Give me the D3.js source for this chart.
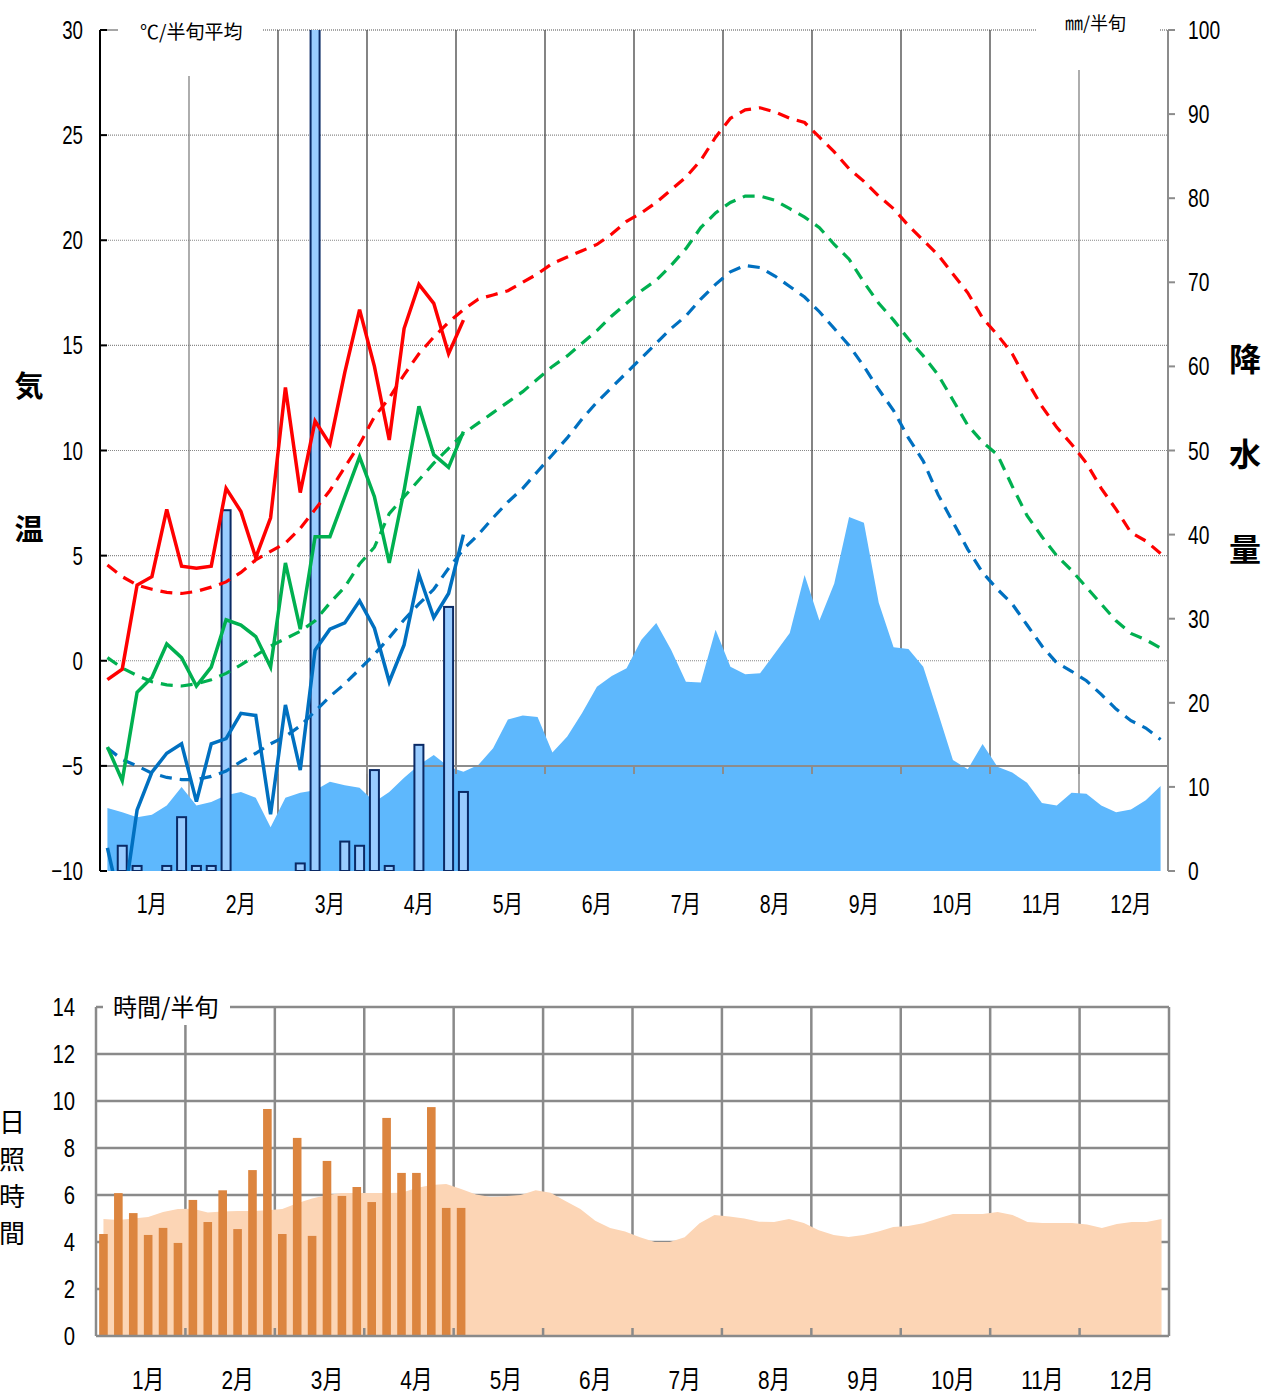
<!DOCTYPE html>
<html lang="ja">
<head>
<meta charset="UTF-8">
<title>気温・降水量・日照時間</title>
<script src="https://d3js.org/d3.v7.min.js"></script>
<style>
  html, body { margin: 0; padding: 0; background: #fff; }
  svg { display: block; }
  .num { font-family: "Liberation Sans", "Noto Sans CJK JP", sans-serif; fill: #000; }
  .jp { font-family: "Noto Sans CJK JP", sans-serif; fill: #000; }
</style>
</head>
<body>
<svg id="chart" width="1262" height="1394"></svg>
<script>
// month labels
const months = ["1月","2月","3月","4月","5月","6月","7月","8月","9月","10月","11月","12月"];

// observed half-month (半旬) values, Jan 1st .. Apr 5th period
const tMax  = [-0.9,-0.4,3.6,4.0,7.2,4.5,4.4,4.5,8.2,7.1,4.9,6.8,13.0,8.0,11.4,10.3,13.7,16.7,14.0,10.5,15.8,17.9,17.0,14.6,16.2];
const tMean = [-4.1,-5.7,-1.5,-0.8,0.8,0.15,-1.2,-0.3,1.95,1.7,1.15,-0.3,4.65,1.5,5.9,5.9,7.8,9.7,7.8,4.65,8.1,12.1,9.8,9.2,10.9];
const tMin  = [-8.9,-12.0,-7.1,-5.3,-4.4,-3.95,-6.7,-3.95,-3.7,-2.5,-2.6,-7.3,-2.1,-5.2,0.5,1.5,1.8,2.85,1.55,-1.0,0.75,4.1,2.05,3.2,6.0];
const precObs = [0,3.0,0.6,0,0.6,6.4,0.6,0.6,42.9,0,0,0,0,0.9,110,0,3.5,3.0,12.0,0.6,0,15.0,0,31.4,9.4];
const sunObs  = [4.34,6.08,5.23,4.3,4.6,3.96,5.79,4.85,6.2,4.55,7.06,9.66,4.34,8.43,4.26,7.45,5.96,6.34,5.7,9.28,6.94,6.94,9.74,5.45,5.45];

// normals, 72 half-month periods
const nMax = [4.55,4.0,3.6,3.4,3.25,3.2,3.3,3.5,3.75,4.2,4.8,5.2,5.6,6.3,7.2,8.1,9.2,10.3,11.6,12.5,13.6,14.6,15.4,16.1,16.7,17.2,17.4,17.6,18.0,18.4,18.9,19.2,19.5,19.8,20.3,20.9,21.3,21.8,22.4,23.0,23.8,24.9,25.8,26.2,26.3,26.1,25.8,25.6,24.9,24.2,23.4,22.8,22.1,21.5,20.7,20.0,19.3,18.4,17.5,16.3,15.5,14.6,13.3,12.1,11.1,10.3,9.4,8.2,7.2,6.1,5.7,5.1];
const nMean = [0.15,-0.35,-0.7,-1.0,-1.15,-1.2,-1.1,-0.9,-0.6,-0.2,0.25,0.7,1.05,1.4,1.9,2.75,3.5,4.6,5.4,7.0,7.8,8.6,9.4,10.1,10.8,11.3,11.8,12.3,12.8,13.4,14.0,14.5,15.1,15.7,16.4,17.0,17.6,18.1,18.8,19.6,20.6,21.3,21.8,22.1,22.1,21.9,21.5,21.1,20.6,19.8,19.1,18.0,17.0,16.2,15.3,14.5,13.6,12.4,11.2,10.4,9.8,8.3,6.9,5.9,5.0,4.3,3.5,2.7,1.9,1.3,1.0,0.6];
const nMin = [-4.15,-4.7,-5.0,-5.35,-5.55,-5.65,-5.65,-5.5,-5.25,-4.8,-4.4,-3.95,-3.6,-3.1,-2.4,-1.7,-1.1,-0.4,0.3,1.1,1.95,2.7,3.4,4.4,5.3,6.0,6.8,7.55,8.2,9.0,9.8,10.6,11.5,12.3,13.0,13.7,14.4,15.1,15.8,16.4,17.2,17.9,18.5,18.8,18.7,18.3,17.8,17.3,16.6,15.8,15.0,14.0,12.9,11.9,10.6,9.5,7.9,6.6,5.3,4.2,3.4,2.7,1.7,0.7,-0.1,-0.5,-0.95,-1.6,-2.3,-2.85,-3.2,-3.75];
const precNorm = [7.5,7.0,6.4,6.7,7.8,10.0,7.8,8.2,9.0,9.4,8.7,5.2,8.7,9.3,9.6,10.6,10.2,9.9,8.2,9.4,11.1,12.6,13.8,12.4,11.8,12.6,14.6,18.0,18.5,18.3,14.1,16.0,18.8,21.9,23.2,24.1,27.5,29.5,26.3,22.5,22.4,28.7,24.3,23.4,23.5,25.9,28.3,35.2,29.8,34.2,42.1,41.4,31.9,26.6,26.4,24.3,18.8,13.2,12.1,15.1,12.4,11.7,10.5,8.1,7.8,9.3,9.2,7.8,7.0,7.3,8.4,10.1];
const sunNorm = [4.98,4.94,5.0,5.06,5.28,5.4,5.42,5.26,5.3,5.32,5.32,5.35,5.4,5.65,5.85,6.0,6.08,6.08,6.08,6.08,6.1,6.3,6.43,6.47,6.26,6.02,5.92,5.95,6.0,6.2,6.1,5.75,5.4,4.9,4.6,4.45,4.2,4.0,4.0,4.2,4.8,5.15,5.08,5.0,4.86,4.85,4.98,4.81,4.5,4.3,4.21,4.3,4.45,4.64,4.68,4.8,5.0,5.19,5.19,5.19,5.28,5.15,4.85,4.81,4.81,4.81,4.74,4.6,4.77,4.85,4.85,4.98];

// axis ticks
const tempTicks = [30,25,20,15,10,5,0,-5,-10];
const precTicks = [100,90,80,70,60,50,40,30,20,10,0];
const sunTicks = [14,12,10,8,6,4,2,0];

const svg = d3.select("#chart");
const N = 72;

function ntext(g, xx, yy, s, size, anchor, sx) {
  return g.append("text").attr("class", "num")
    .attr("transform", `translate(${xx},${yy}) scale(${sx},1)`)
    .attr("text-anchor", anchor).attr("font-size", size).text(s);
}

// ---------- top panel: temperature & precipitation ----------
const L = 100, R = 1168, T = 30, B = 871;
const x = d3.scaleLinear().domain([0, N]).range([L, R]);
const cx = i => x(i + 0.5);
const yT = d3.scaleLinear().domain([-10, 30]).range([B, T]);
const yP = d3.scaleLinear().domain([0, 100]).range([B, T]);

svg.append("clipPath").attr("id", "clipTop")
  .append("rect").attr("x", L).attr("y", T).attr("width", R - L).attr("height", B - T);

const gTop = svg.append("g");

// dotted horizontal grid
gTop.selectAll(".hg").data([25,20,15,10,5,0]).enter().append("line")
  .attr("x1", L).attr("x2", R).attr("y1", d => yT(d)).attr("y2", d => yT(d))
  .attr("stroke", "#888").attr("stroke-width", 1.2).attr("stroke-dasharray", "1,1");
// top border with gaps for the unit labels
[[L, 118], [263, 1037], [1160, R]].forEach(s => {
  gTop.append("line").attr("x1", s[0]).attr("x2", s[1]).attr("y1", T).attr("y2", T)
    .attr("stroke", "#888").attr("stroke-width", 1.5).attr("stroke-dasharray", s[0] === L ? null : "1,1");
});

// month boundary lines
d3.range(1, 12).forEach(m => {
  const xx = x(m * 6);
  const short = (m === 1 || m === 11);
  gTop.append("line").attr("x1", xx).attr("x2", xx)
    .attr("y1", m === 1 ? 76 : (m === 11 ? 70 : T)).attr("y2", B)
    .attr("stroke", short ? "#777" : "#333").attr("stroke-width", 1.2);
});

// precipitation normal (area)
gTop.append("path")
  .datum(precNorm)
  .attr("fill", "#5eb8fd")
  .attr("d", d3.area().x((d, i) => cx(i)).y0(B).y1(d => yP(d)));

// category axis crossing at -5 °C
gTop.append("line").attr("x1", L).attr("x2", R).attr("y1", yT(-5)).attr("y2", yT(-5))
  .attr("stroke", "#8c8c8c").attr("stroke-width", 2);
d3.range(1, 12).forEach(m => {
  gTop.append("line").attr("x1", x(m * 6)).attr("x2", x(m * 6))
    .attr("y1", yT(-5)).attr("y2", yT(-5) + 8).attr("stroke", "#8c8c8c").attr("stroke-width", 2);
});

const plot = gTop.append("g").attr("clip-path", "url(#clipTop)");

// observed precipitation bars
precObs.forEach((d, i) => {
  if (d <= 0) return;
  const yy = Math.max(yP(d), T - 5);
  plot.append("rect")
    .attr("x", cx(i) - 4.5).attr("width", 9)
    .attr("y", yy).attr("height", B - yy)
    .attr("fill", "#99ccff").attr("stroke", "#0a2a66").attr("stroke-width", 2);
});

// temperature lines
const line = d3.line().x((d, i) => cx(i)).y(d => yT(d));
const series = [
  { n: nMax, o: tMax, c: "#ff0000" },
  { n: nMean, o: tMean, c: "#00b050" },
  { n: nMin, o: tMin, c: "#0070c0" }
];
series.forEach(s => {
  plot.append("path").datum(s.n).attr("d", line)
    .attr("fill", "none").attr("stroke", s.c).attr("stroke-width", 3.2)
    .attr("stroke-dasharray", "12,8");
});
series.forEach(s => {
  plot.append("path").datum(s.o).attr("d", line)
    .attr("fill", "none").attr("stroke", s.c).attr("stroke-width", 3.5);
});

// left axis
gTop.append("line").attr("x1", L).attr("x2", L).attr("y1", T).attr("y2", B)
  .attr("stroke", "#000").attr("stroke-width", 2);
tempTicks.forEach(t => {
  gTop.append("line").attr("x1", L).attr("x2", L + 7).attr("y1", yT(t)).attr("y2", yT(t))
    .attr("stroke", "#000").attr("stroke-width", 2);
});
// right axis
gTop.append("line").attr("x1", R).attr("x2", R).attr("y1", T).attr("y2", B)
  .attr("stroke", "#8c8c8c").attr("stroke-width", 2);
precTicks.forEach(p => {
  gTop.append("line").attr("x1", R).attr("x2", R + 7).attr("y1", yP(p)).attr("y2", yP(p))
    .attr("stroke", "#8c8c8c").attr("stroke-width", 2);
});

tempTicks.forEach(t => {
  ntext(gTop, 83, yT(t) + 9, t < 0 ? "\u2212" + Math.abs(t) : String(t), 26, "end", 0.72);
});
precTicks.forEach(p => {
  ntext(gTop, 1188, yP(p) + 9, String(p), 26, "start", 0.74);
});
months.forEach((m, k) => {
  ntext(gTop, cx(k * 6 + 3), 913, m, 25, "middle", 0.78);
});

gTop.append("text").attr("class", "jp").attr("x", 140).attr("y", 39)
  .attr("font-size", 19).attr("fill", "#333").text("℃/半旬平均");
gTop.append("text").attr("class", "jp").attr("x", 1065).attr("y", 30)
  .attr("font-size", 18).attr("fill", "#333").text("㎜/半旬");

[["気", 397], ["温", 540]].forEach(a => {
  gTop.append("text").attr("class", "jp").attr("x", 29).attr("y", a[1])
    .attr("text-anchor", "middle").attr("font-size", 29).attr("font-weight", "bold").text(a[0]);
});
[["降", 371], ["水", 466], ["量", 561]].forEach(a => {
  gTop.append("text").attr("class", "jp").attr("x", 1245).attr("y", a[1])
    .attr("text-anchor", "middle").attr("font-size", 32).attr("font-weight", "bold").text(a[0]);
});

// ---------- bottom panel: sunshine ----------
const L2 = 96, R2 = 1169, T2 = 1007, B2 = 1336;
const x2 = d3.scaleLinear().domain([0, N]).range([L2, R2]);
const cx2 = i => x2(i + 0.5);
const yS = d3.scaleLinear().domain([0, 14]).range([B2, T2]);

const gBot = svg.append("g");

sunTicks.filter(v => v > 0 && v < 14).forEach(v => {
  gBot.append("line").attr("x1", L2).attr("x2", R2).attr("y1", yS(v)).attr("y2", yS(v))
    .attr("stroke", "#8a8a8a").attr("stroke-width", 2.5);
});
[[L2, 103], [230, R2]].forEach(s => {
  gBot.append("line").attr("x1", s[0]).attr("x2", s[1]).attr("y1", T2).attr("y2", T2)
    .attr("stroke", "#8a8a8a").attr("stroke-width", 2.5);
});
d3.range(0, 13).forEach(m => {
  const xx = x2(m * 6);
  gBot.append("line").attr("x1", xx).attr("x2", xx)
    .attr("y1", m === 1 ? 1025 : T2).attr("y2", B2)
    .attr("stroke", "#8a8a8a").attr("stroke-width", 2.5);
});

gBot.append("path").datum(sunNorm)
  .attr("fill", "#fcd5b5")
  .attr("d", d3.area().x((d, i) => cx2(i)).y0(B2).y1(d => yS(d)));

sunObs.forEach((d, i) => {
  gBot.append("rect").attr("x", cx2(i) - 4.3).attr("width", 8.6)
    .attr("y", yS(d)).attr("height", B2 - yS(d)).attr("fill", "#dc853f");
});

gBot.append("line").attr("x1", L2).attr("x2", R2).attr("y1", B2).attr("y2", B2)
  .attr("stroke", "#8a8a8a").attr("stroke-width", 2.5);
d3.range(1, 12).forEach(m => {
  gBot.append("line").attr("x1", x2(m * 6)).attr("x2", x2(m * 6))
    .attr("y1", B2).attr("y2", B2 - 8).attr("stroke", "#8a8a8a").attr("stroke-width", 2.5);
});

sunTicks.forEach(v => {
  ntext(gBot, 75, yS(v) + 9, String(v), 26, "end", 0.78);
});
months.forEach((m, k) => {
  ntext(gBot, cx2(k * 6 + 3), 1389, m, 26, "middle", 0.8);
});
gBot.append("text").attr("class", "jp").attr("x", 113).attr("y", 1016)
  .attr("font-size", 24).attr("fill", "#333").text("時間/半旬");
[["日", 1132], ["照", 1169], ["時", 1206], ["間", 1243]].forEach(a => {
  gBot.append("text").attr("class", "jp").attr("x", 12).attr("y", a[1])
    .attr("text-anchor", "middle").attr("font-size", 26).text(a[0]);
});
</script>
</body>
</html>
